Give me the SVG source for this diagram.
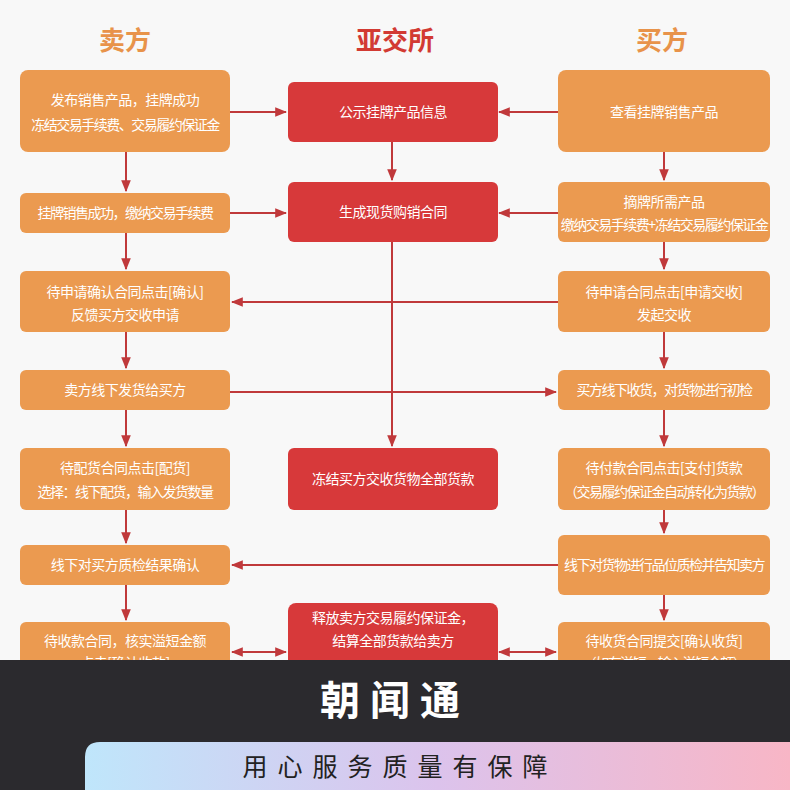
<svg xmlns="http://www.w3.org/2000/svg" width="790" height="790" viewBox="0 0 790 790">
<defs>
<marker id="ah" viewBox="0 0 10 10" refX="9" refY="5" markerWidth="6" markerHeight="6" orient="auto-start-reverse"><path d="M0,1 L10,5 L0,9 z" fill="#c0393b"/></marker>
<linearGradient id="g" x1="0" x2="1" y1="0" y2="0"><stop offset="0" stop-color="#bfe6fb"/><stop offset="0.5" stop-color="#dcc3ec"/><stop offset="1" stop-color="#f8b6c6"/></linearGradient>
<style>
.o{fill:#eb9a50}.r{fill:#d7393a}
.t{font-family:"Noto Sans CJK SC",sans-serif;font-size:14px;fill:#fff;text-anchor:middle;letter-spacing:-0.5px}
.n{letter-spacing:-1.5px}
.h{font-family:"Noto Sans CJK SC",sans-serif;font-size:26px;font-weight:bold;text-anchor:middle}
.c line,.c path{stroke:#c0393b;stroke-width:2;fill:none}
</style>
</defs>
<rect width="790" height="790" fill="#f8f8f8"/>
<text class="h" x="125" y="50" fill="#e8934a">卖方</text>
<text class="h" x="395" y="50" fill="#d23a33">亚交所</text>
<text class="h" x="662" y="50" fill="#e8934a">买方</text>
<g class="c">
<line x1="126" y1="152" x2="126" y2="191" marker-end="url(#ah)"/>
<line x1="126" y1="233" x2="126" y2="269" marker-end="url(#ah)"/>
<line x1="126" y1="332" x2="126" y2="368" marker-end="url(#ah)"/>
<line x1="126" y1="410" x2="126" y2="446" marker-end="url(#ah)"/>
<line x1="126" y1="510" x2="126" y2="543" marker-end="url(#ah)"/>
<line x1="126" y1="585" x2="126" y2="620" marker-end="url(#ah)"/>
<line x1="664" y1="152" x2="664" y2="180" marker-end="url(#ah)"/>
<line x1="664" y1="242" x2="664" y2="269" marker-end="url(#ah)"/>
<line x1="664" y1="332" x2="664" y2="368" marker-end="url(#ah)"/>
<line x1="664" y1="410" x2="664" y2="446" marker-end="url(#ah)"/>
<line x1="664" y1="510" x2="664" y2="533" marker-end="url(#ah)"/>
<line x1="664" y1="595" x2="664" y2="620" marker-end="url(#ah)"/>
<line x1="392" y1="142" x2="392" y2="180" marker-end="url(#ah)"/>
<line x1="392" y1="242" x2="392" y2="446" marker-end="url(#ah)"/>
<line x1="230" y1="112" x2="286" y2="112" marker-end="url(#ah)"/>
<line x1="558" y1="112" x2="499" y2="112" marker-end="url(#ah)"/>
<line x1="230" y1="213" x2="286" y2="213" marker-end="url(#ah)"/>
<line x1="558" y1="213" x2="499" y2="213" marker-end="url(#ah)"/>
<line x1="558" y1="302" x2="232" y2="302" marker-end="url(#ah)"/>
<line x1="230" y1="392" x2="556" y2="392" marker-end="url(#ah)"/>
<line x1="558" y1="565" x2="232" y2="565" marker-end="url(#ah)"/>
<line x1="232" y1="652" x2="286" y2="652" marker-start="url(#ah)" marker-end="url(#ah)"/>
<line x1="499" y1="652" x2="556" y2="652" marker-start="url(#ah)" marker-end="url(#ah)"/>
</g>
<g id="s1"><rect class="o" x="20" y="70" width="210" height="82" rx="8"/><text class="t" x="125" y="105">发布销售产品，挂牌成功</text><text class="t n" x="125" y="130">冻结交易手续费、交易履约保证金</text></g>
<g id="s2"><rect class="o" x="20" y="193" width="210" height="40" rx="6"/><text class="t n" x="125" y="218">挂牌销售成功，缴纳交易手续费</text></g>
<g id="s3"><rect class="o" x="20" y="271" width="210" height="61" rx="6"/><text class="t" x="125" y="297">待申请确认合同点击[确认]</text><text class="t" x="125" y="320">反馈买方交收申请</text></g>
<g id="s4"><rect class="o" x="20" y="370" width="210" height="40" rx="6"/><text class="t" x="125" y="395">卖方线下发货给买方</text></g>
<g id="s5"><rect class="o" x="20" y="448" width="210" height="62" rx="6"/><text class="t" x="125" y="473">待配货合同点击[配货]</text><text class="t n" x="125" y="497">选择：线下配货，输入发货数量</text></g>
<g id="s6"><rect class="o" x="20" y="545" width="210" height="40" rx="6"/><text class="t" x="125" y="570">线下对买方质检结果确认</text></g>
<g id="s7"><rect class="o" x="20" y="622" width="210" height="62" rx="6"/><text class="t" x="125" y="646">待收款合同，核实溢短金额</text><text class="t" x="125" y="668">点击[确认收款]</text></g>
<g id="m1"><rect class="r" x="288" y="82" width="210" height="60" rx="6"/><text class="t" x="393" y="117">公示挂牌产品信息</text></g>
<g id="m2"><rect class="r" x="288" y="182" width="210" height="60" rx="6"/><text class="t" x="393" y="217">生成现货购销合同</text></g>
<g id="m5"><rect class="r" x="288" y="448" width="210" height="62" rx="6"/><text class="t" x="393" y="484">冻结买方交收货物全部货款</text></g>
<g id="m7"><rect class="r" x="288" y="603" width="210" height="80" rx="8"/><text class="t" x="393" y="623">释放卖方交易履约保证金，</text><text class="t" x="393" y="646">结算全部货款给卖方</text></g>
<g id="b1"><rect class="o" x="558" y="70" width="212" height="82" rx="8"/><text class="t" x="664" y="117">查看挂牌销售产品</text></g>
<g id="b2"><rect class="o" x="558" y="182" width="212" height="60" rx="6"/><text class="t" x="664" y="207">摘牌所需产品</text><text class="t n" x="664" y="230">缴纳交易手续费+冻结交易履约保证金</text></g>
<g id="b3"><rect class="o" x="558" y="271" width="212" height="61" rx="6"/><text class="t" x="664" y="297">待申请合同点击[申请交收]</text><text class="t" x="664" y="320">发起交收</text></g>
<g id="b4"><rect class="o" x="558" y="370" width="212" height="40" rx="6"/><text class="t n" x="664" y="395">买方线下收货，对货物进行初检</text></g>
<g id="b5"><rect class="o" x="558" y="448" width="212" height="62" rx="6"/><text class="t" x="664" y="473">待付款合同点击[支付]货款</text><text class="t n" x="664" y="497">（交易履约保证金自动转化为货款）</text></g>
<g id="b6"><rect class="o" x="558" y="535" width="212" height="60" rx="6"/><text class="t n" x="664" y="570">线下对货物进行品位质检并告知卖方</text></g>
<g id="b7"><rect class="o" x="558" y="622" width="212" height="62" rx="6"/><text class="t" x="664" y="646">待收货合同提交[确认收货]</text><text class="t n" x="664" y="668">（如有溢短，输入溢短金额）</text></g>
<rect x="0" y="660" width="790" height="130" fill="#2b2a2e"/>
<text x="395" y="715" font-family="Noto Sans CJK SC,sans-serif" font-size="40" font-weight="bold" fill="#fff" text-anchor="middle" letter-spacing="10">朝闻通</text>
<path d="M85,790 V757 Q85,742 100,742 H790 V790 Z" fill="url(#g)"/>
<text x="400" y="776" font-family="Noto Sans CJK SC,sans-serif" font-size="25" fill="#222" text-anchor="middle" letter-spacing="10">用心服务质量有保障</text>
</svg>
